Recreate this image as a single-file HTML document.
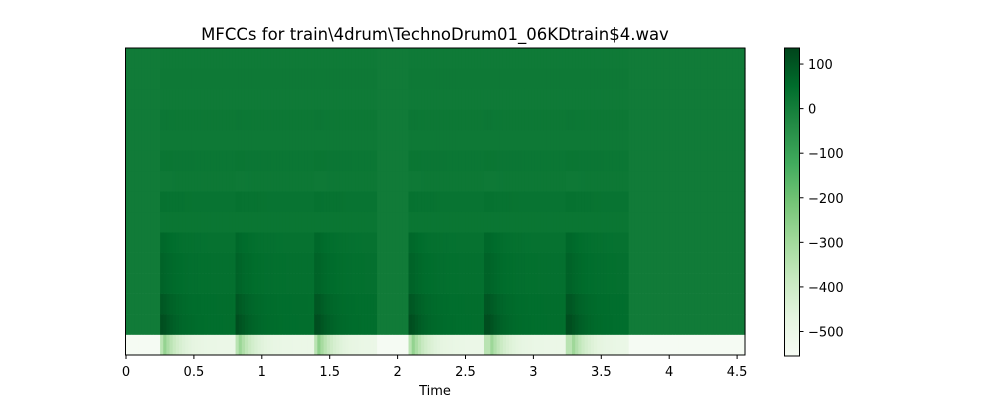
<!DOCTYPE html>
<html><head><meta charset="utf-8"><style>
body{margin:0;background:#fff;font-family:"Liberation Sans","DejaVu Sans",sans-serif;}
svg text{font-family:"DejaVu Sans","Liberation Sans",sans-serif;font-size:13px;fill:#000}
</style></head><body>
<svg id="c" width="1000" height="400" viewBox="0 0 1000 400">
<text x="435" y="40" text-anchor="middle" style="font-size:16.5px">MFCCs for train\4drum\TechnoDrum01_06KDtrain$4.wav</text>
<g id="heat"></g>
<rect x="125.5" y="48" width="619.5" height="307" fill="none" stroke="#000" stroke-width="1"/>
<g id="xaxis"></g>
<text x="435" y="395" text-anchor="middle">Time</text>
<defs><linearGradient id="cg" x1="0" y1="1" x2="0" y2="0">
<stop offset="0" stop-color="#f7fcf5"/><stop offset="0.125" stop-color="#e5f5e0"/><stop offset="0.25" stop-color="#c7e9c0"/><stop offset="0.375" stop-color="#a1d99b"/><stop offset="0.5" stop-color="#74c476"/><stop offset="0.625" stop-color="#41ab5d"/><stop offset="0.75" stop-color="#238b45"/><stop offset="0.875" stop-color="#006d2c"/><stop offset="1" stop-color="#00441b"/></linearGradient></defs>
<rect x="784.5" y="48" width="15" height="308" fill="url(#cg)" stroke="#000" stroke-width="1"/>
<g id="cbaxis"></g>
</svg>
<script>
const onsets=[0.25,0.80,1.39,2.08,2.65,3.25];
const segEnds=[0.80,1.39,1.86,2.65,3.25,3.70];
const silence=[-545,8,8,8,8,8,8,8,8,8,8,8,8,8,8];
const peak=[-250,115,95,70,70,60,25,35,15,25,15,20,12,15,12];
const sustain=[-500,45,45,40,40,35,25,30,18,22,15,18,12,14,12];
const xTicks=[0,0.5,1,1.5,2,2.5,3,3.5,4,4.5];
const cbTicks=[100,0,-100,-200,-300,-400,-500];
const vmin=-555,vmax=136,tMax=4.56,nFrames=197;
const X0=125.5,X1=745,Y0=48,Y1=355;
const xs=t=>126+t*135.8;
const cbY=v=>356-(v-vmin)/(vmax-vmin)*308;
const stops=[[247,252,245],[229,245,224],[199,233,192],[161,217,155],[116,196,118],[65,171,93],[35,139,69],[0,109,44],[0,68,27]];
function col(v){let f=Math.max(0,Math.min(1,(v-vmin)/(vmax-vmin)))*8;let i=Math.min(7,Math.floor(f)),r=f-i;
const a=stops[i],b=stops[i+1];return `rgb(${a.map((c,k)=>Math.round(c+(b[k]-c)*r)).join(',')})`;}
const ns='http://www.w3.org/2000/svg';
const heat=document.getElementById('heat');
const nRows=silence.length,rh=(Y1-Y0)/nRows,fw=(X1-X0)/nFrames;
for(let f=0;f<nFrames;f++){const t=(f+0.5)*tMax/nFrames;
 let seg=-1;for(let s=0;s<onsets.length;s++)if(t>=onsets[s]&&t<segEnds[s])seg=s;
 for(let r=0;r<nRows;r++){let v=silence[r];
  if(seg>=0){const dt=t-onsets[seg];v=sustain[r]+(peak[r]-sustain[r])*Math.exp(-Math.max(0,dt-0.03)/0.1)*(dt<0.03&&r==0?0.6:1);}
  const e=document.createElementNS(ns,'rect');
  e.setAttribute('x',X0+f*fw);e.setAttribute('y',Y1-(r+1)*rh);e.setAttribute('width',fw+0.6);e.setAttribute('height',rh+0.3);e.setAttribute('fill',col(v));
  
  
  heat.appendChild(e);}}
const xa=document.getElementById('xaxis');
xTicks.forEach(t=>{const l=document.createElementNS(ns,'line');l.setAttribute('x1',xs(t));l.setAttribute('x2',xs(t));l.setAttribute('y1',355);l.setAttribute('y2',359);l.setAttribute('stroke','#000');
 
 
 xa.appendChild(l);
 const tx=document.createElementNS(ns,'text');tx.setAttribute('x',xs(t));tx.setAttribute('y',376);tx.setAttribute('text-anchor','middle');tx.textContent=t;
 
 
 xa.appendChild(tx);});
const ca=document.getElementById('cbaxis');
cbTicks.forEach(v=>{const y=cbY(v);const l=document.createElementNS(ns,'line');l.setAttribute('x1',799.5);l.setAttribute('x2',803.5);l.setAttribute('y1',y);l.setAttribute('y2',y);l.setAttribute('stroke','#000');
 
 
 ca.appendChild(l);
 const tx=document.createElementNS(ns,'text');tx.setAttribute('x',808);tx.setAttribute('y',y+5);tx.textContent=v<0?'\u2212'+(-v):v;
 
 
 ca.appendChild(tx);});
</script>
</body></html>
